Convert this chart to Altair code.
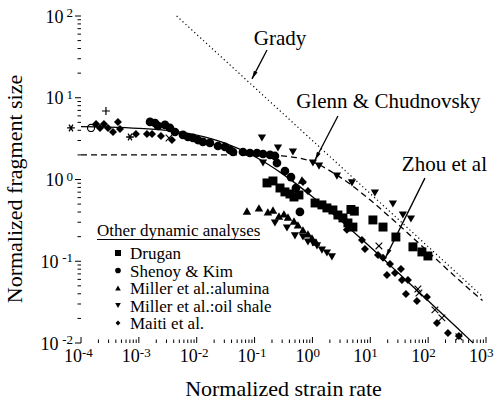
import altair as alt
import pandas as pd

FONT = "Liberation Serif"

# ---------------- measured data (normalized strain rate, normalized fragment size)
drugan_x = [0.164, 0.208, 0.275, 0.335, 0.409, 0.480, 0.585, 1.11, 1.46, 1.78, 2.26, 2.76,
            3.37, 4.11, 5.01, 4.63, 5.30, 11.1, 16.6, 27.7, 54.6, 78.0, 99.1]
drugan_y = [0.908, 0.959, 0.787, 0.705, 0.665, 0.611, 0.647, 0.516, 0.489, 0.449, 0.424, 0.368,
            0.339, 0.294, 0.262, 0.430, 0.410, 0.320, 0.262, 0.198, 0.150, 0.130, 0.116]

shenoy_x = [1.56e-3, 1.90e-3, 2.14e-3, 2.83e-3, 3.45e-3, 4.21e-3, 5.79e-3, 7.06e-3, 8.61e-3,
            1.05e-2, 1.28e-2, 1.69e-2, 2.33e-2, 3.08e-2, 3.76e-2, 4.24e-2, 6.30e-2, 8.32e-2,
            0.110, 0.140, 0.185, 0.225, 0.244, 0.335, 0.426, 0.519, 0.608]
shenoy_y = [5.06, 4.91, 4.52, 4.65, 4.27, 3.81, 3.51, 3.31, 3.22,
            3.04, 2.88, 2.80, 2.57, 2.50, 2.30, 2.17, 2.17, 2.11,
            2.11, 2.05, 2.00, 1.94, 1.59, 1.27, 1.07, 0.787, 0.401]

alumina_x = [0.0738, 0.119, 0.170, 0.208, 0.264, 0.322, 0.378, 0.480, 0.562, 0.685, 0.837,
             0.982, 1.15, 0.659]
alumina_y = [0.412, 0.449, 0.401, 0.424, 0.358, 0.379, 0.348, 0.311, 0.278, 0.242, 0.216,
             0.193, 0.172, 0.986]

shale_x = [0.134, 0.254, 0.460, 0.140, 1.02, 1.30, 2.65, 4.82, 12.0, 24.6, 36.6, 50.4,
           0.225, 0.363, 0.499, 0.685, 0.837, 1.02, 1.20, 1.46, 1.78, 2.17]
shale_y = [3.22, 2.43, 2.17, 1.59, 1.59, 1.46, 1.10, 0.908, 0.684, 0.502, 0.368, 0.329,
           0.294, 0.255, 0.204, 0.198, 0.172, 0.167, 0.154, 0.137, 0.126, 0.113]

maiti_x = [1.82e-4, 2.13e-4, 2.49e-4, 2.93e-4, 3.57e-4, 4.35e-4, 4.72e-4, 8.91e-4, 1.38e-3,
           1.69e-3, 2.41e-3, 3.73e-3, 0.685, 0.837, 3.94, 7.18, 8.09, 13.6, 16.6, 21.9, 33.9,
           19.4, 26.7, 35.2, 44.8, 41.3, 64.0, 95.3, 142, 220, 340]
maiti_y = [4.78, 4.27, 4.78, 4.27, 3.81, 5.06, 4.15, 3.61, 3.61,
           3.61, 3.40, 3.04, 0.933, 0.724, 0.242, 0.182, 0.141, 0.119, 0.110, 0.0927, 0.0805,
           0.0679, 0.0719, 0.0590, 0.0590, 0.0398, 0.0327, 0.0366, 0.0176, 0.0133, 0.0122]

# other sources drawn with open / line symbols
open_circle_x = [1.49e-4]
open_circle_y = [4.27]
plus_x = [2.70e-4]
plus_y = [6.89]
star_x = [6.71e-5, 7.03e-4]
star_y = [4.27, 3.31]
cross_x = [3.32e-3, 14.1, 66.5, 69.3, 131, 173, 340]
cross_y = [3.22, 0.154, 0.0458, 0.0409, 0.0254, 0.0203, 0.0119]

# ---------------- model curves
zhou_x = [1e-4, 3e-4, 1e-3, 3e-3, 1e-2, 3e-2, 0.1, 0.3, 1, 3, 10, 30, 100, 300, 600]
zhou_y = [4.44, 4.38, 4.23, 3.98, 3.48, 2.80, 1.91, 1.18, 0.616, 0.319, 0.149, 0.0728,
          0.0329, 0.0159, 0.0100]
glenn_x = [1e-4, 1e-3, 1e-2, 0.03, 0.1, 0.3, 1, 3, 10, 30, 100, 300, 870]
glenn_y = [2.00, 2.00, 2.00, 2.00, 1.99, 1.94, 1.64, 1.07, 0.56, 0.284, 0.131, 0.064, 0.033]
grady_x = [4.5e-3, 870]
grady_y = [100, 0.037]

# ---------------- annotations
label_text = ["Grady", "Glenn & Chudnovsky", "Zhou et al"]
label_x = [0.275, 20.6, 191]
label_y = [51.6, 8.75, 1.49]
arrow_x0 = [0.164, 2.76, 87.9]
arrow_y0 = [38.4, 5.98, 1.04]
arrow_x1 = [0.0902, 1.11, 18.6]
arrow_y1 = [17.0, 1.73, 0.113]

series_names = ["Drugan", "Shenoy & Kim", "Miller et al.:alumina",
                "Miller et al.:oil shale", "Maiti et al."]
series_shapes = ["square", "circle", "triangle-up", "triangle-down", "diamond"]
series_sizes = [80, 64, 66, 66, 46]
legend_sizes = [36, 32, 32, 32, 24]

x_decades = [1e-4, 1e-3, 1e-2, 1e-1, 1, 1e1, 1e2, 1e3]
x_exps = ["-4", "-3", "-2", "-1", "0", "1", "2", "3"]
y_decades = [1e-2, 1e-1, 1, 1e1, 1e2]
y_exps = ["-2", "-1", "0", "1", "2"]
minor_mult = [2, 3, 4, 5, 6, 7, 8, 9]

# ---------------- tables
points = pd.concat([
    pd.DataFrame({"x": xs_, "y": ys_, "series": name})
    for name, xs_, ys_ in zip(series_names,
                              [drugan_x, shenoy_x, alumina_x, shale_x, maiti_x],
                              [drugan_y, shenoy_y, alumina_y, shale_y, maiti_y])
], ignore_index=True)

x_minor = [m * d for d in x_decades[:-1] for m in minor_mult]
y_minor = [m * d for d in y_decades[:-1] for m in minor_mult]

W, H = 405, 327
xsc = alt.Scale(type="log", domain=[1e-4, 1e3], nice=False)
ysc = alt.Scale(type="log", domain=[1e-2, 1e2], nice=False)


def X(f="x"):
    return alt.X(f"{f}:Q", scale=xsc, axis=None)


def Y(f="y"):
    return alt.Y(f"{f}:Q", scale=ysc, axis=None)


one = pd.DataFrame({"k": [0]})

# Zhou et al. curve carries the two axis lines
zhou = alt.Chart(pd.DataFrame({"x": zhou_x, "y": zhou_y})).mark_line(
    color="black", strokeWidth=1.3, interpolate="monotone"
).encode(
    x=alt.X("x:Q", scale=xsc, axis=alt.Axis(
        title=None, labels=False, ticks=False, grid=False,
        domainColor="black", domainWidth=1.2)),
    y=alt.Y("y:Q", scale=ysc, axis=alt.Axis(
        title=None, labels=False, ticks=False, grid=False,
        domainColor="black", domainWidth=1.2)),
)

glenn = alt.Chart(pd.DataFrame({"x": glenn_x, "y": glenn_y})).mark_line(
    color="black", strokeWidth=1.3, strokeDash=[6, 4], interpolate="monotone"
).encode(x=X(), y=Y())

grady = alt.Chart(pd.DataFrame({"x": grady_x, "y": grady_y})).mark_line(
    color="black", strokeWidth=1.2, strokeDash=[1.2, 2.8]
).encode(x=X(), y=Y())

scatter = alt.Chart(points).mark_point(filled=True, color="black", opacity=1).encode(
    x=X(), y=Y(),
    shape=alt.Shape("series:N", scale=alt.Scale(domain=series_names, range=series_shapes),
                    legend=None),
    size=alt.Size("series:N", scale=alt.Scale(domain=series_names, range=series_sizes),
                  legend=None),
)

open_c = alt.Chart(pd.DataFrame({"x": open_circle_x, "y": open_circle_y})).mark_point(
    shape="circle", filled=False, color="black", strokeWidth=1.2, size=50, opacity=1
).encode(x=X(), y=Y())

plus = alt.Chart(pd.DataFrame({"x": plus_x, "y": plus_y})).mark_point(
    shape="M-1,0L1,0M0,-1L0,1", filled=False, color="black", strokeWidth=1.2,
    size=64, opacity=1
).encode(x=X(), y=Y())

star = alt.Chart(pd.DataFrame({"x": star_x, "y": star_y})).mark_point(
    shape="M-1,0L1,0M-0.5,-0.87L0.5,0.87M-0.5,0.87L0.5,-0.87", filled=False,
    color="black", strokeWidth=1.3, size=60, opacity=1
).encode(x=X(), y=Y())

cross = alt.Chart(pd.DataFrame({"x": cross_x, "y": cross_y})).mark_point(
    shape="M-1,-1L1,1M-1,1L1,-1", filled=False, color="black", strokeWidth=1.1,
    size=44, opacity=1
).encode(x=X(), y=Y())

arrows_df = pd.DataFrame({"x0": arrow_x0, "y0": arrow_y0, "x1": arrow_x1, "y1": arrow_y1})
arrow_lines = alt.Chart(arrows_df).mark_rule(color="black", strokeWidth=1.3).encode(
    x=X("x0"), y=Y("y0"), x2="x1:Q", y2="y1:Q")
arrow_heads = alt.Chart(arrows_df).mark_point(
    shape="M0,0L0.55,2.2L-0.55,2.2Z", filled=True, color="black", size=56,
    angle=207, opacity=1
).encode(x=X("x1"), y=Y("y1"))

labels = alt.Chart(pd.DataFrame({"x": label_x, "y": label_y, "t": label_text})).mark_text(
    font=FONT, fontSize=21, color="black", align="center", baseline="middle"
).encode(x=X(), y=Y(), text="t:N")

# axis ticks: x ticks point into the plot, y ticks point outwards
xt_major = alt.Chart(pd.DataFrame({"x": x_decades})).mark_rule(color="black", strokeWidth=1).encode(
    x=X(), y=alt.value(H), y2=alt.value(H - 6))
xt_minor = alt.Chart(pd.DataFrame({"x": x_minor})).mark_rule(color="black", strokeWidth=1).encode(
    x=X(), y=alt.value(H), y2=alt.value(H - 3.5))
yt_major = alt.Chart(pd.DataFrame({"y": y_decades})).mark_rule(color="black", strokeWidth=1).encode(
    y=Y(), x=alt.value(0), x2=alt.value(-6))
yt_minor = alt.Chart(pd.DataFrame({"y": y_minor})).mark_rule(color="black", strokeWidth=1).encode(
    y=Y(), x=alt.value(0), x2=alt.value(-3.5))

# tick labels written as 10 with a raised exponent
xlab_df = pd.DataFrame({"x": x_decades, "e": x_exps})
xlab_base = alt.Chart(xlab_df).mark_text(
    font=FONT, fontSize=18, color="black", align="right", baseline="alphabetic", dx=1
).encode(x=X(), y=alt.value(H + 19), text=alt.value("10"))
xlab_exp = alt.Chart(xlab_df).mark_text(
    font=FONT, fontSize=13, color="black", align="left", baseline="alphabetic", dx=1
).encode(x=X(), y=alt.value(H + 14), text="e:N")

ylab_df = pd.DataFrame({"y": y_decades, "e": y_exps})
ylab_neg = ylab_df[ylab_df["e"].str.startswith("-")]
ylab_pos = ylab_df[~ylab_df["e"].str.startswith("-")]
ylab_base_neg = alt.Chart(ylab_neg).mark_text(
    font=FONT, fontSize=18, color="black", align="right", baseline="alphabetic", dy=6.5
).encode(y=Y(), x=alt.value(-22.5), text=alt.value("10"))
ylab_base_pos = alt.Chart(ylab_pos).mark_text(
    font=FONT, fontSize=18, color="black", align="right", baseline="alphabetic", dy=6.5
).encode(y=Y(), x=alt.value(-17.5), text=alt.value("10"))
ylab_exp = alt.Chart(ylab_df).mark_text(
    font=FONT, fontSize=13, color="black", align="right", baseline="alphabetic", dy=1
).encode(y=Y(), x=alt.value(-8), text="e:N")

# axis titles
x_title = alt.Chart(one).mark_text(
    font=FONT, fontSize=22, color="black", align="center", baseline="alphabetic"
).encode(x=alt.value(W / 2), y=alt.value(H + 53), text=alt.value("Normalized strain rate"))
y_title = alt.Chart(one).mark_text(
    font=FONT, fontSize=22, color="black", align="center", baseline="alphabetic", angle=270
).encode(x=alt.value(-59.5), y=alt.value(173), text=alt.value("Normalized fragment size"))

# legend block inside the plot
leg_title = alt.Chart(one).mark_text(
    font=FONT, fontSize=17, color="black", align="left", baseline="alphabetic"
).encode(x=alt.value(16), y=alt.value(220), text=alt.value("Other dynamic analyses"))
leg_line = alt.Chart(one).mark_rule(color="black", strokeWidth=1).encode(
    x=alt.value(16), x2=alt.value(179), y=alt.value(223.5))
leg_layers = []
row_y = [237, 254.5, 272, 289.5, 307]
for name, shp, sz, ry in zip(series_names, series_shapes, legend_sizes, row_y):
    leg_layers.append(alt.Chart(one).mark_point(
        shape=shp, filled=True, color="black", size=sz, opacity=1
    ).encode(x=alt.value(37), y=alt.value(ry)))
    leg_layers.append(alt.Chart(one).mark_text(
        font=FONT, fontSize=17, color="black", align="left", baseline="middle"
    ).encode(x=alt.value(49), y=alt.value(ry + 1), text=alt.value(name)))

chart = alt.layer(
    zhou, glenn, grady, scatter, open_c, plus, star, cross,
    arrow_lines, arrow_heads, labels,
    xt_major, xt_minor, yt_major, yt_minor,
    xlab_base, xlab_exp, ylab_base_neg, ylab_base_pos, ylab_exp,
    x_title, y_title,
    leg_title, leg_line, *leg_layers,
).properties(
    width=W, height=H,
    autosize=alt.AutoSizeParams(type="none"),
    padding={"left": 81, "top": 16, "right": 13, "bottom": 58},
    background="white",
).configure_view(stroke=None)

chart.save("out.html", embed_options={"renderer": "svg", "actions": False})
